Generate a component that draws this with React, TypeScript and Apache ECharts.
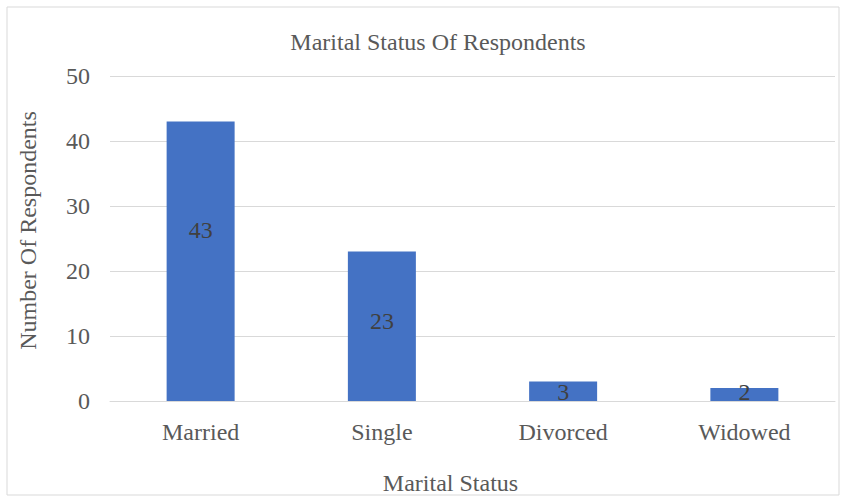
import React, { useEffect, useRef } from "react";
import * as echarts from "echarts";

const categories = ["Married", "Single", "Divorced", "Widowed"];
const respondents = [43, 23, 3, 2];
const yTicks = { min: 0, max: 50, interval: 10 };

// vertical nudge of each value label inside its bar
const labelNudge = [-31, -5, 1, -3];

const FONT = "'Liberation Serif', 'Times New Roman', serif";
const TEXT = "#595959";

export default function App() {
  const ref = useRef<HTMLDivElement>(null);

  useEffect(() => {
    if (!ref.current) return;
    const chart = echarts.init(ref.current, undefined, { renderer: "svg" });
    chart.setOption({
      animation: false,
      backgroundColor: "#ffffff",
      title: {
        text: "Marital Status Of Respondents",
        left: 433,
        textAlign: "center",
        top: 25,
        textStyle: { fontFamily: FONT, fontSize: 24, fontWeight: "normal", color: TEXT },
      },
      graphic: [
        {
          type: "rect",
          shape: { x: 7, y: 7, width: 832, height: 488 },
          style: { fill: "none", stroke: "#d9d9d9", lineWidth: 1 },
          silent: true,
        },
      ],
      grid: { left: 110, right: 11, top: 76, bottom: 96 },
      xAxis: {
        type: "category",
        data: categories,
        name: "Marital Status",
        nameLocation: "middle",
        nameGap: 70,
        nameTextStyle: { fontFamily: FONT, fontSize: 24, color: TEXT, padding: [0, 44, 0, 0] },
        axisLine: { lineStyle: { color: "#d9d9d9" } },
        axisTick: { show: false },
        axisLabel: { fontFamily: FONT, fontSize: 24, color: TEXT, margin: 19 },
      },
      yAxis: {
        type: "value",
        min: yTicks.min,
        max: yTicks.max,
        interval: yTicks.interval,
        name: "Number Of Respondents",
        nameLocation: "middle",
        nameGap: 70,
        nameTextStyle: { fontFamily: FONT, fontSize: 24, color: TEXT, padding: [0, 0, 0, 16] },
        axisLine: { show: false },
        axisTick: { show: false },
        axisLabel: { fontFamily: FONT, fontSize: 24, color: TEXT, margin: 20 },
        splitLine: { lineStyle: { color: "#d9d9d9" } },
      },
      series: [
        {
          type: "bar",
          data: respondents.map((v, i) => ({
            value: v,
            label: { offset: [0, labelNudge[i]] },
          })),
          barWidth: 68,
          itemStyle: { color: "#4472c4" },
          label: {
            show: true,
            position: "inside",
            fontFamily: FONT,
            fontSize: 24,
            color: "#404040",
          },
        },
      ],
    });
    return () => chart.dispose();
  }, []);

  return (
    <div
      ref={ref}
      style={{ position: "fixed", left: 0, top: 0, width: 846, height: 500 }}
    />
  );
}
